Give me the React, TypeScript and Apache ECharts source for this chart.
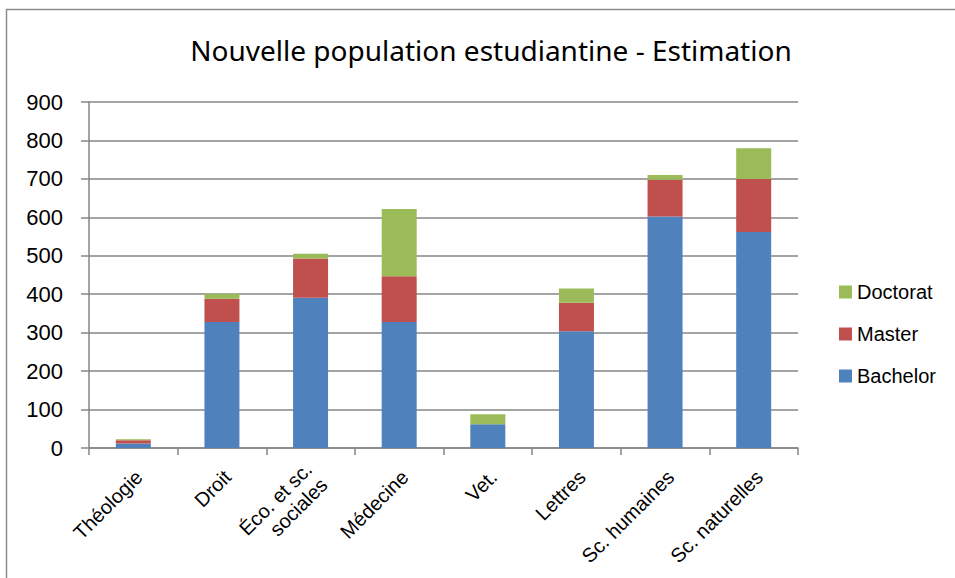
import React, { useEffect, useRef } from "react";
import * as echarts from "echarts";

const categories = [
  "Théologie",
  "Droit",
  "Éco. et sc.\nsociales",
  "Médecine",
  "Vet.",
  "Lettres",
  "Sc. humaines",
  "Sc. naturelles",
];
const bachelor = [12, 328, 391, 328, 62, 304, 602, 562];
const master = [8, 60, 102, 119, 0, 74, 96, 138];
const doctorat = [3, 13, 12, 175, 26, 37, 12, 80];
const yTicks = { min: 0, max: 900, interval: 100 };

export default function App() {
  const ref = useRef<HTMLDivElement>(null);
  useEffect(() => {
    document.body.style.margin = "0";
    const chart = echarts.init(ref.current!, null, { renderer: "svg" });
    const font = "'Liberation Sans', Arial, sans-serif";
    chart.setOption({
      animation: false,
      backgroundColor: "#ffffff",
      title: {
        text: "Nouvelle population estudiantine - Estimation",
        left: 486,
        textAlign: "center",
        top: 31,
        textStyle: {
          fontFamily: "'Noto Sans', sans-serif",
          fontSize: 28,
          fontWeight: "normal",
          color: "#000",
        },
      },
      graphic: [
        {
          type: "rect",
          shape: { x: 6.5, y: 9.5, width: 1200, height: 1200 },
          style: { fill: "none", stroke: "#8c8c8c", lineWidth: 1.5 },
          silent: true,
        },
      ],
      legend: {
        orient: "vertical",
        left: 834,
        top: 277,
        itemWidth: 13,
        itemHeight: 13,
        itemGap: 22,
        data: ["Doctorat", "Master", "Bachelor"],
        textStyle: { fontFamily: font, fontSize: 20, color: "#000" },
        icon: "rect",
      },
      grid: { left: 89, right: 157, top: 102, bottom: 130, containLabel: false },
      xAxis: {
        type: "category",
        data: categories,
        boundaryGap: true,
        axisLine: { lineStyle: { color: "#868686", width: 1.5 } },
        axisTick: { show: true, length: 7, alignWithLabel: false, lineStyle: { color: "#868686", width: 1.5 } },
        axisLabel: {
          rotate: 45,
          interval: 0,
          fontFamily: font,
          fontSize: 20,
          color: "#000",
          margin: 20,
          formatter: (v: string) =>
            v
              .split("\n")
              .map((s) => "{a|" + s + "}")
              .join("\n"),
          rich: {
            a: {
              fontFamily: font,
              fontSize: 20,
              color: "#000",
              lineHeight: 22,
              padding: [16, 0, 0, 0],
            },
          },
        },
      },
      yAxis: {
        type: "value",
        min: yTicks.min,
        max: yTicks.max,
        interval: yTicks.interval,
        axisLine: { show: true, lineStyle: { color: "#868686", width: 1.5 } },
        axisTick: { show: true, length: 8, lineStyle: { color: "#868686", width: 1.5 } },
        splitLine: { lineStyle: { color: "#868686", width: 1.5 } },
        axisLabel: { fontFamily: font, fontSize: 22, color: "#000", margin: 26 },
      },
      series: [
        {
          name: "Bachelor",
          type: "bar",
          stack: "total",
          data: bachelor,
          barWidth: 35,
          itemStyle: { color: "#4F81BD" },
        },
        {
          name: "Master",
          type: "bar",
          stack: "total",
          data: master,
          barWidth: 35,
          itemStyle: { color: "#C0504D" },
        },
        {
          name: "Doctorat",
          type: "bar",
          stack: "total",
          data: doctorat,
          barWidth: 35,
          itemStyle: { color: "#9BBB59" },
        },
      ],
    });
    return () => chart.dispose();
  }, []);
  return <div ref={ref} style={{ width: 955, height: 578 }} />;
}
